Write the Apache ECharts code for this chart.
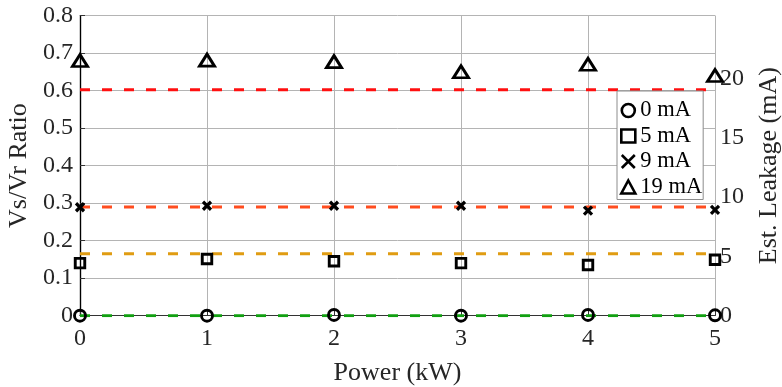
<!DOCTYPE html>
<html>
<head>
<meta charset="utf-8">
<script src="https://cdn.jsdelivr.net/npm/echarts@6/dist/echarts.min.js"></script>
<style>
  html, body { margin: 0; padding: 0; background: #fff; }
  #chart { width: 782px; height: 387px; }
</style>
</head>
<body>
<div id="chart"></div>
<script>
// Power settings (kW)
const powerKW = [0, 1, 2, 3, 4, 5];

// Measured Vs/Vr ratio for each injected leakage current
const ratio0mA  = [0.000, 0.000, 0.002, 0.000, 0.002, 0.001];
const ratio5mA  = [0.140, 0.151, 0.145, 0.140, 0.135, 0.149];
const ratio9mA  = [0.289, 0.293, 0.293, 0.293, 0.280, 0.282];
const ratio19mA = [0.680, 0.681, 0.677, 0.650, 0.670, 0.640];

// Reference ratio levels for each leakage current
const levelNames  = ['0 mA', '5 mA', '9 mA', '19 mA'];
const levelRatios = [0.0, 0.165, 0.290, 0.602];
const levelColors = ['#12a012', '#e09c12', '#ff4d1f', '#ff1010'];

// Axis ticks
const leakageTicks = [0, 5, 10, 15, 20];
const ratioMax   = 0.8;
const leakageMax = 0.8 * 19 / 0.6;   // right scale: 19 mA lines up with 0.6

const FONT = 'Liberation Serif';
const TXT = '#262626';

const chart = echarts.init(document.getElementById('chart'), null, { renderer: 'canvas' });

const markerStyle = { color: 'transparent', borderColor: '#000', borderWidth: 2.9, opacity: 1 };
const markerSeries = [
  { name: '0 mA',  data: ratio0mA,  symbol: 'circle',   symbolSize: 11 },
  { name: '5 mA',  data: ratio5mA,  symbol: 'rect',     symbolSize: 9.5 },
  { name: '9 mA',  data: ratio9mA,  symbol: 'path://M0,0L10,10M10,0L0,10', symbolSize: 8 },
  { name: '19 mA', data: ratio19mA, symbol: 'triangle', symbolSize: [15, 12] }
].map(s => ({
  type: 'scatter',
  name: s.name,
  xAxisIndex: 0,
  yAxisIndex: 0,
  symbol: s.symbol,
  symbolSize: s.symbolSize,
  itemStyle: Object.assign({}, markerStyle, s.name === '9 mA' ? { borderWidth: 3.2 } : {}),
  data: powerKW.map((p, i) => [p, s.data[i]]),
  z: 5,
  silent: true
}));

const levelSeries = levelRatios.map((v, i) => ({
  type: 'line',
  name: 'level ' + levelNames[i],
  xAxisIndex: 0,
  yAxisIndex: 0,
  data: [[powerKW[0], v], [powerKW[powerKW.length - 1], v]],
  symbol: 'none',
  lineStyle: { color: levelColors[i], width: 3, type: [10, 12] },
  z: 3,
  silent: true
}));

chart.setOption({
  animation: false,
  backgroundColor: '#fff',
  textStyle: { fontFamily: FONT },
  grid: { left: 80, right: 67, top: 15.5, bottom: 71.3, containLabel: false, outerBoundsMode: 'none' },
  legend: {
    data: levelNames.map(n => ({
      name: n,
      itemStyle: { color: 'transparent', borderColor: '#000', borderWidth: 2.6 }
    })),
    orient: 'vertical',
    left: 617,
    top: 91,
    padding: [7, 1, 0, 3],
    itemWidth: 14,
    itemHeight: 13,
    itemGap: 0.5,
    backgroundColor: '#fff',
    borderColor: '#8c8c8c',
    borderWidth: 1,
    textStyle: { fontFamily: FONT, fontSize: 22.5, color: '#000', lineHeight: 25 },
    selectedMode: false
  },
  xAxis: [
    {
      type: 'value',
      min: 0, max: 5, interval: 1,
      position: 'bottom',
      name: 'Power (kW)',
      nameLocation: 'middle',
      nameGap: 44,
      nameTextStyle: { fontFamily: FONT, fontSize: 26, color: TXT },
      axisLine: { show: true, onZero: false, lineStyle: { color: '#333', width: 1 } },
      axisTick: { show: true, inside: true, length: 5, lineStyle: { color: '#333' } },
      axisLabel: { fontFamily: FONT, fontSize: 24, color: TXT, margin: 11 },
      splitLine: { show: true, lineStyle: { color: '#b4b4b4', width: 1 } }
    },
    {
      type: 'value',
      min: 0, max: 5,
      position: 'top',
      axisLine: { show: true, lineStyle: { color: '#333', width: 1 } },
      axisTick: { show: false },
      axisLabel: { show: false },
      splitLine: { show: false }
    }
  ],
  yAxis: [
    {
      type: 'value',
      min: 0, max: ratioMax, interval: 0.1,
      position: 'left',
      name: 'Vs/Vr Ratio',
      nameLocation: 'middle',
      nameGap: 45,
      nameTextStyle: { fontFamily: FONT, fontSize: 26, color: TXT },
      axisLine: { show: true, lineStyle: { color: '#000', width: 1.2 } },
      axisTick: { show: true, inside: true, length: 5, lineStyle: { color: '#333' } },
      axisLabel: {
        fontFamily: FONT, fontSize: 24, color: TXT, margin: 7,
        formatter: v => (v === 0 ? '0' : v.toFixed(1))
      },
      splitLine: { show: true, lineStyle: { color: '#b4b4b4', width: 1 } }
    },
    {
      type: 'value',
      min: 0, max: leakageMax, interval: 5,
      position: 'right',
      name: 'Est. Leakage (mA)',
      nameLocation: 'middle',
      nameRotate: 90,
      nameGap: 41,
      nameTextStyle: { fontFamily: FONT, fontSize: 26, color: TXT },
      axisLine: { show: true, lineStyle: { color: '#000', width: 1.2 } },
      axisTick: { show: false },
      axisLabel: {
        fontFamily: FONT, fontSize: 24, color: TXT, margin: 5,
        formatter: v => (leakageTicks.indexOf(v) >= 0 ? String(v) : '')
      },
      splitLine: { show: false }
    }
  ],
  series: levelSeries.concat(markerSeries)
});
</script>
</body>
</html>
